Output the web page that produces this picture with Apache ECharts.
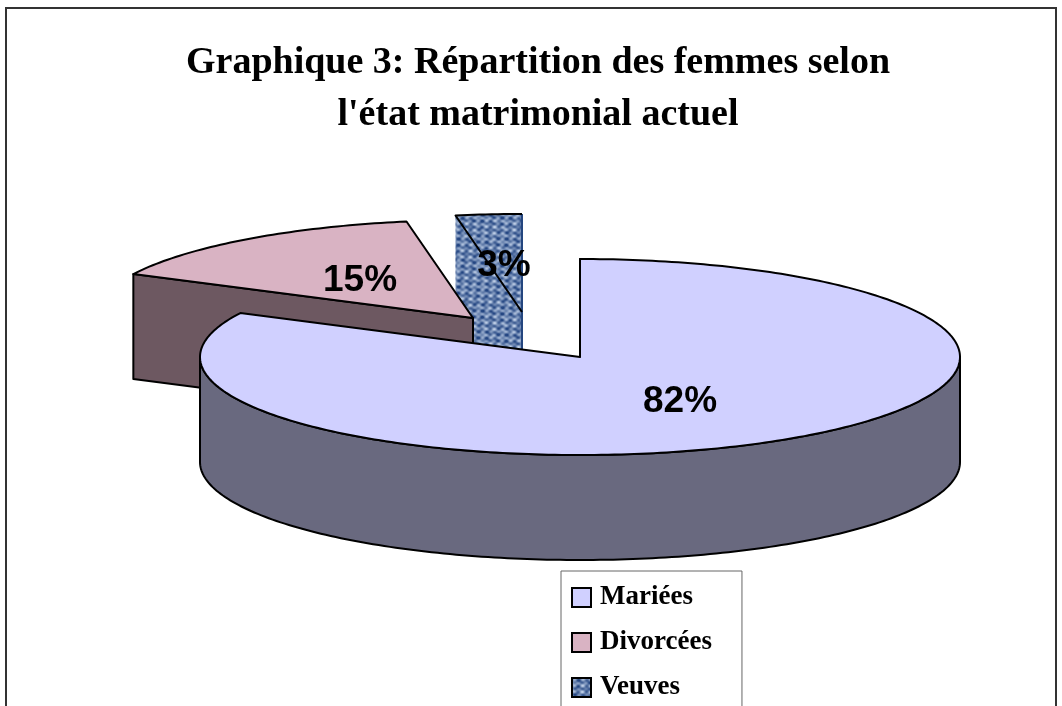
<!DOCTYPE html>
<html>
<head>
<meta charset="utf-8">
<title>Graphique 3</title>
<style>
  html, body { margin: 0; padding: 0; background: #fff; }
  #chart { width: 1062px; height: 706px; }
</style>
</head>
<body>
<div id="chart"></div>
<script src="https://cdn.jsdelivr.net/npm/echarts@6/dist/echarts.min.js"></script>
<script>
  const categories = ["Mariées", "Divorcées", "Veuves"];
  const shares = [82.4, 14.8, 2.8];
  const titleText = "Graphique 3: Répartition des femmes selon\nl'état matrimonial actuel";

  // pie drawing: Excel style squashed 3D pie
  const center = [580, 357];
  const radiusX = 380;
  const radiusY = 98;
  const depth = 105;
  const explode = [[0, 0], [-107, -39], [-58, -45]];
  const labelAt = [[680, 402], [360, 281], [504, 266]];
  const topColors = ["#d0d0ff", "#d9b3c3", null];
  const sideColors = ["#69697f", "#6d5861", null];

  // woven blue fill for the small slice
  function weave() {
    const tile = document.createElement("canvas");
    tile.width = tile.height = 48;
    const ctx = tile.getContext("2d");
    for (let y = 0; y < 48; y++) {
      for (let x = 0; x < 48; x++) {
        const a = Math.sin(x * Math.PI / 4) * Math.sin(y * Math.PI / 3);
        const b = Math.cos((x + 2 * y) * Math.PI / 12) * Math.sin((x - y) * Math.PI / 8);
        const v = Math.max(0, Math.min(1, 0.4 + 0.26 * a + 0.3 * b));
        ctx.fillStyle = `rgb(${Math.round(36 + v * 170)},${Math.round(70 + v * 150)},${Math.round(130 + v * 110)})`;
        ctx.fillRect(x, y, 1, 1);
      }
    }
    return { image: tile, repeat: "repeat" };
  }
  const pattern = weave();
  const fills = [topColors[0], topColors[1], pattern];
  const sides = [sideColors[0], sideColors[1], pattern];

  const total = shares.reduce((sum, v) => sum + v, 0);

  function rimPoint(index, deg, drop) {
    const a = deg * Math.PI / 180;
    return [
      center[0] + explode[index][0] + radiusX * Math.sin(a),
      center[1] + explode[index][1] - radiusY * Math.cos(a) + drop
    ];
  }

  function arc(index, from, to, drop) {
    const pts = [];
    const steps = Math.max(2, Math.ceil(Math.abs(to - from)));
    for (let i = 0; i <= steps; i++) pts.push(rimPoint(index, from + (to - from) * i / steps, drop));
    return pts;
  }

  function renderSlice(index) {
    return function (params, api) {
      const before = shares.slice(0, index).reduce((sum, v) => sum + v, 0);
      const start = before / total * 360;
      const end = start + api.value(0) / total * 360;
      const apex = [center[0] + explode[index][0], center[1] + explode[index][1]];
      const apexLow = [apex[0], apex[1] + depth];
      const startRim = rimPoint(index, start, 0);
      const startLow = rimPoint(index, start, depth);
      const textured = index === 2;
      const children = [];
      const line = { stroke: "#000", lineWidth: 2, lineJoin: "round" };

      // cut face on the start side
      children.push({
        type: "polygon",
        shape: { points: [apex, startRim, startLow, apexLow] },
        style: textured ? { fill: sides[index] } : { fill: sides[index], ...line }
      });

      // outer wall, only the front half shows
      const wallFrom = Math.max(start, 90);
      const wallTo = Math.min(end, 270);
      if (wallTo > wallFrom) {
        const upper = arc(index, wallFrom, wallTo, 0);
        const lower = arc(index, wallTo, wallFrom, depth);
        children.push({
          type: "polygon",
          shape: { points: upper.concat(lower) },
          style: { fill: sides[index], ...line }
        });
      }

      // top face
      const rim = arc(index, start, end, 0);
      if (textured) {
        children.push({ type: "polygon", shape: { points: [apex].concat(rim) }, style: { fill: fills[index] } });
        children.push({
          type: "line",
          shape: { x1: apex[0], y1: apex[1] - radiusY, x2: apexLow[0], y2: apexLow[1] },
          style: { stroke: "#24467f", lineWidth: 2 }
        });
        children.push({ type: "polyline", shape: { points: [apex].concat(rim) }, style: { fill: null, ...line } });
      } else {
        children.push({ type: "polygon", shape: { points: [apex].concat(rim) }, style: { fill: fills[index], ...line } });
      }

      children.push({
        type: "text",
        style: {
          x: labelAt[index][0],
          y: labelAt[index][1],
          text: `${Math.round(api.value(0))}%`,
          align: "center",
          verticalAlign: "middle",
          fill: "#000",
          font: 'bold 37px "Liberation Sans", Arial, sans-serif'
        }
      });
      return { type: "group", children: children };
    };
  }

  const chart = echarts.init(document.getElementById("chart"), null, { renderer: "canvas" });
  chart.setOption({
    animation: false,
    backgroundColor: "#fff",
    title: {
      text: titleText,
      left: 533,
      top: 32,
      textAlign: "center",
      textStyle: {
        fontFamily: '"Liberation Serif", "Times New Roman", serif',
        fontWeight: "bold",
        fontSize: 38,
        lineHeight: 52,
        color: "#000"
      }
    },
    legend: {
      orient: "vertical",
      left: 561,
      top: 571,
      height: 200,
      padding: [13, 30, 6, 10],
      itemWidth: 19,
      itemHeight: 19,
      itemGap: 18,
      backgroundColor: "#fff",
      borderColor: "#666",
      borderWidth: 1,
      textStyle: {
        fontFamily: '"Liberation Serif", "Times New Roman", serif',
        fontWeight: "bold",
        fontSize: 27,
        color: "#000",
        padding: [0, 0, 0, 4]
      },
      data: categories.map((name, i) => ({
        name: name,
        icon: "rect",
        itemStyle: { color: fills[i], borderColor: "#000", borderWidth: 2 }
      }))
    },
    graphic: [{
      type: "rect",
      z: -1,
      shape: { x: 6, y: 8, width: 1050, height: 730 },
      style: { fill: null, stroke: "#333", lineWidth: 2 }
    }],
    // drawn back to front
    series: [2, 1, 0].map((i) => ({
      name: categories[i],
      type: "custom",
      coordinateSystem: "none",
      data: [[shares[i]]],
      silent: true,
      renderItem: renderSlice(i)
    }))
  });
</script>
</body>
</html>
